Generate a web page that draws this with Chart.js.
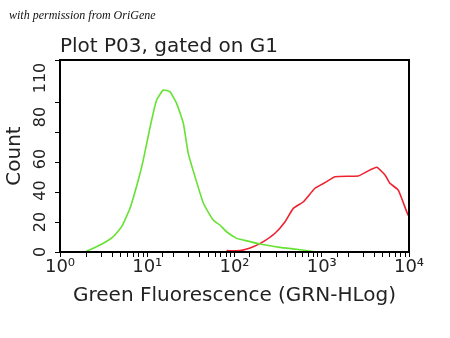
<!DOCTYPE html>
<html>
<head>
<meta charset="utf-8">
<script src="https://cdn.jsdelivr.net/npm/chart.js@4"></script>
<style>
  body { margin: 0; background: #fff; }
  #wrap { position: relative; width: 450px; height: 338px; }
  #note {
    position: absolute; left: 9px; top: 8px;
    font: italic 12px "Liberation Serif", serif; color: #111;
  }
</style>
</head>
<body>
<div id="wrap">
  <canvas id="histChart" width="450" height="338"></canvas>
  <div id="note">with permission from OriGene</div>
</div>
<script>
// Green (G1 stained) histogram
const greenX = [1.93, 2.41, 3.14, 4.08, 5.09, 6.34, 7.9, 9.0, 10.8, 12.8, 15.3, 18.2, 21.7, 25.9, 29.5, 35.3, 44, 57, 68, 81, 106, 126, 196, 333, 515, 836];
const greenY = [0, 2.5, 5.8, 10.2, 16.9, 29.1, 48, 61.3, 83.5, 101.3, 108, 106.9, 99.1, 85.8, 65.8, 50.2, 32.5, 21.3, 18, 13.5, 9.1, 8, 5.3, 3.1, 1.8, 0.2];

// Red histogram
const redX = [81, 116, 164, 214, 291, 380, 472, 617, 836, 1140, 1420, 2630, 3270, 4270, 5310, 6040, 7530, 9400, 9900];
const redY = [0.9, 0.9, 3.5, 6.9, 12.5, 20.2, 29.1, 33.5, 42.5, 46.9, 50.2, 50.7, 53.5, 56.5, 51.3, 45.8, 41.3, 26.9, 24];

// tick labels
const xTickLabels = ["10\u2070", "10\u00b9", "10\u00b2", "10\u00b3", "10\u2074"];
const yTickLabels = ["0", "20", "40", "60", "80", "110"];
const yLabelAt = [0, 20, 41, 62, 90, 116];

const toPoints = (xs, ys) => xs.map((x, i) => ({ x: x, y: ys[i] }));

// frame round the plot + rotated y labels
const framePlugin = {
  id: "frame",
  afterDraw(chart) {
    const ctx = chart.ctx;
    const a = chart.chartArea;
    const y = chart.scales.y;
    ctx.save();
    ctx.strokeStyle = "#000";
    ctx.lineWidth = 2;
    ctx.strokeRect(a.left, a.top, a.right - a.left, a.bottom - a.top);
    ctx.fillStyle = "#222";
    ctx.font = "16px 'DejaVu Sans'";
    ctx.textAlign = "center";
    ctx.textBaseline = "middle";
    yTickLabels.forEach((t, i) => {
      const py = y.getPixelForValue(yLabelAt[i]);
      ctx.save();
      ctx.translate(41, py);
      ctx.rotate(-Math.PI / 2);
      ctx.fillText(t, 0, 0);
      ctx.restore();
    });
    ctx.restore();
  },
};

const ctx = document.getElementById("histChart").getContext("2d");
const histChart = new Chart(ctx, {
  type: "line",
  data: {
    datasets: [
      {
        label: "Green",
        data: toPoints(greenX, greenY),
        borderColor: "#66e233",
        borderWidth: 1.6,
        pointRadius: 0,
        tension: 0.15,
      },
      {
        label: "Red",
        data: toPoints(redX, redY),
        borderColor: "#ee2230",
        borderWidth: 1.6,
        pointRadius: 0,
        tension: 0.15,
      },
    ],
  },
  options: {
    responsive: false,
    animation: false,
    layout: { padding: { left: 0, right: 41, top: 0, bottom: 0 } },
    plugins: {
      legend: { display: false },
      tooltip: { enabled: false },
      title: {
        display: true,
        text: "Plot P03, gated on G1",
        align: "start",
        fullSize: false,
        color: "#222",
        font: { family: "DejaVu Sans", size: 20, weight: "normal" },
        padding: { top: 35, bottom: 1 },
      },
    },
    scales: {
      x: {
        type: "logarithmic",
        min: 1,
        max: 10000,
        afterFit(scale) { scale.height = 86; },
        border: { color: "#000", width: 2 },
        grid: { drawOnChartArea: false, tickLength: 5, color: "#000" },
        ticks: {
          autoSkip: false,
          maxRotation: 0,
          padding: 0,
          color: "#222",
          font: { family: "DejaVu Sans", size: 18 },
          callback: function (v) {
            const e = Math.log10(v);
            return Math.abs(e - Math.round(e)) < 1e-9 ? xTickLabels[Math.round(e)] : "";
          },
        },
        title: {
          display: true,
          text: "Green Fluorescence (GRN-HLog)",
          color: "#222",
          font: { family: "DejaVu Sans", size: 20 },
          padding: { top: 0, bottom: 30 },
        },
      },
      y: {
        min: 0,
        max: 128,
        afterFit(scale) { scale.width = 60; },
        border: { color: "#000", width: 2 },
        grid: { drawOnChartArea: false, tickLength: 5, color: "#000" },
        ticks: { stepSize: 10, callback: () => "" , padding: 0 },
        title: {
          display: true,
          text: "Count",
          color: "#222",
          font: { family: "DejaVu Sans", size: 20 },
          padding: { top: 3, bottom: 0 },
        },
      },
    },
  },
  plugins: [framePlugin],
});
</script>
</body>
</html>
